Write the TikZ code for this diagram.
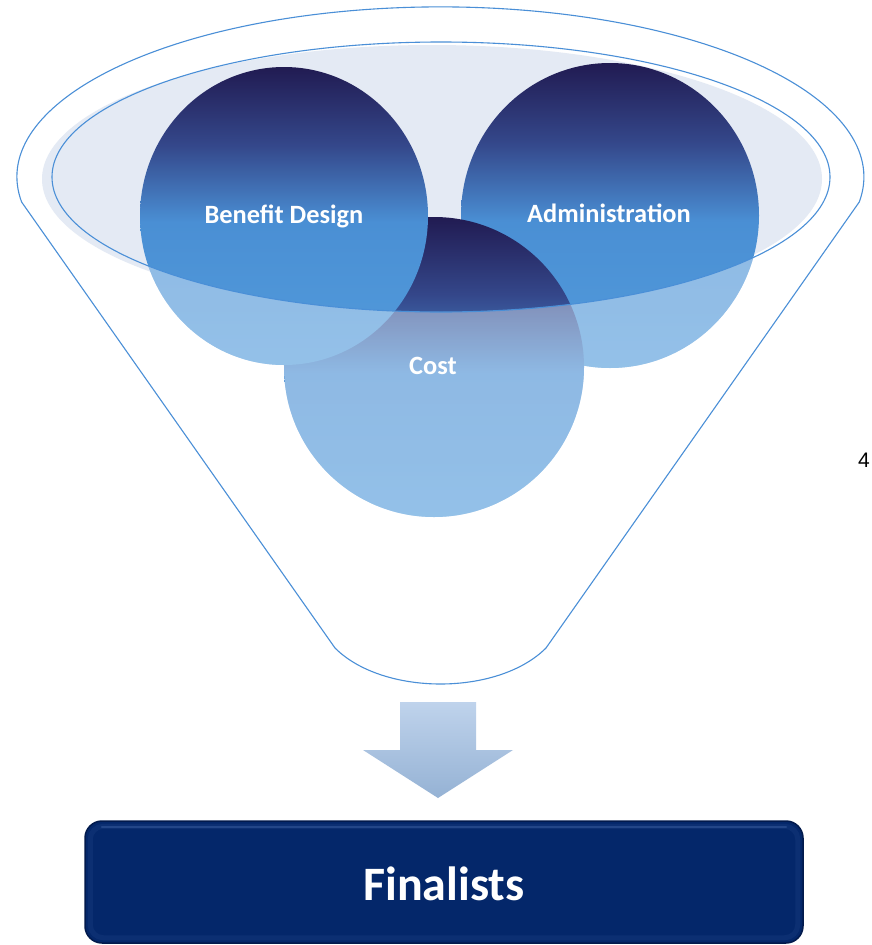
\documentclass[tikz,border=0pt]{standalone}
\usepackage{fontspec}
\setmainfont{Carlito}
\newfontfamily\arialfont{Liberation Sans}
\usetikzlibrary{shapes.geometric}
\definecolor{funnelline}{HTML}{4A8FD7}
\definecolor{mouthfill}{HTML}{E4EAF4}
\definecolor{navytop}{HTML}{211B52}
\definecolor{navyup}{HTML}{34478A}
\definecolor{bluemid}{HTML}{4A8FD4}
\definecolor{bluebot}{HTML}{529BDB}
\definecolor{arrowtop}{HTML}{BFD3EC}
\definecolor{arrowbot}{HTML}{95B2D4}
\definecolor{finalfill}{HTML}{04276A}
\definecolor{finaledge}{HTML}{021A4C}
\definecolor{finalhi}{HTML}{3F63A3}
\pgfdeclareverticalshading{ballshade}{100bp}{color(0bp)=(bluebot); color(25bp)=(bluebot);
  color(49bp)=(bluemid); color(62bp)=(navyup); color(75bp)=(navytop); color(100bp)=(navytop)}
\begin{document}
\begin{tikzpicture}[x=1pt,y=-1pt,
  ball/.style={ellipse, inner sep=0pt, draw=none, shading=ballshade},
  balltext/.style={font=\bfseries\fontsize{26.4}{30}\selectfont, text=white,
    anchor=base, inner sep=0pt},
  outline/.style={draw=funnelline, line width=1.1pt},
  finals/.style={rectangle, rounded corners=17pt, fill=finalfill, draw=finaledge,
    line width=1.5pt, minimum width=718pt, minimum height=122pt, inner sep=0pt},
  fintext/.style={font=\bfseries\fontsize{48}{56}\selectfont, text=white,
    anchor=base, inner sep=0pt}
]
\useasboundingbox (0,0) rectangle (871,945);
\fill[white] (0,0) rectangle (871,945);

% mouth fill
\fill[mouthfill] (432,179) ellipse [x radius=390, y radius=134];

% circles (back to front)
\node[ball, minimum width=298pt, minimum height=305pt] (adm) at (610,215.5) {};
\node[ball, minimum width=300pt, minimum height=300pt] (cost) at (434,367) {};
\node[ball, minimum width=288pt, minimum height=298pt] (bd) at (284,216) {};

% faded part of circles outside the mouth
\begin{scope}
  \clip (610,215.5) ellipse [x radius=149, y radius=152.5]
        (434,367) ellipse [x radius=150, y radius=150]
        (284,216) ellipse [x radius=144, y radius=149];
  \fill[white, opacity=0.38, even odd rule] (0,0) rectangle (871,700)
        (441,177) ellipse [x radius=389, y radius=135];
\end{scope}

% mouth outline
\draw[outline] (441,177) ellipse [x radius=389, y radius=135];

% funnel outline
\draw[outline, line join=round] (21.6,202)
  arc[start angle=171.5, end angle=368.5, x radius=423.5, y radius=170]
  -- (546,648) .. controls (498,696) and (383,696) .. (335,648) -- cycle;

% labels
\node[balltext] (bdt) at (284,223) {Benefit Design};
\node[balltext] (admt) at (609,222) {Administration};
\node[balltext] (costt) at (433,374) {Cost};

% down arrow
\shade[top color=arrowtop, bottom color=arrowbot]
  (400,702) -- (476,702) -- (476,750) -- (513,750) -- (438,798)
  -- (363,750) -- (400,750) -- cycle;

% finalists box with soft bevel
\node[finals] (fin) at (444,882) {};
\draw[finalhi, line width=5pt, opacity=0.15, rounded corners=13pt]
  (fin.south west) ++(6,-6) rectangle ([shift={(-6,6)}]fin.north east);
\draw[finalhi, line width=2.5pt, opacity=0.45, line cap=round]
  (102,827) -- (786,827);
\node[fintext] (fint) at (444,900) {Finalists};

% page number
\node[font=\arialfont\fontsize{21}{24}\selectfont, anchor=base, inner sep=0pt] (pg) at (864,467) {4};
\end{tikzpicture}
\end{document}
